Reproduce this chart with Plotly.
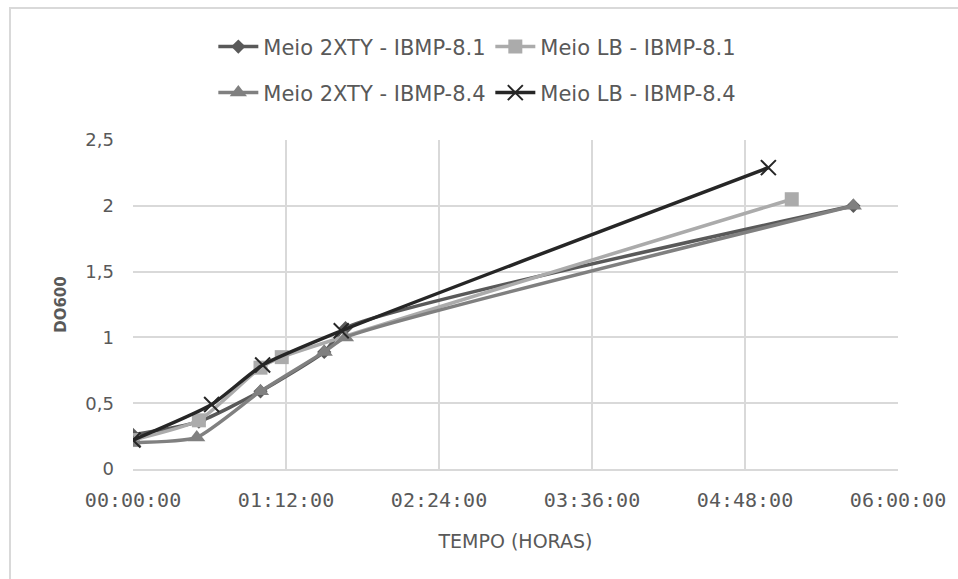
import plotly.graph_objects as go

# Data (time as HH:MM:SS, optical density DO600)
t_2xty_81 = ["00:00:00", "00:31:00", "01:00:00", "01:30:00", "01:40:00", "05:39:00"]
do_2xty_81 = [0.26, 0.36, 0.59, 0.89, 1.07, 2.00]

t_lb_81 = ["00:00:00", "00:31:00", "01:00:00", "01:10:00", "05:10:00"]
do_lb_81 = [0.22, 0.37, 0.77, 0.85, 2.05]

t_2xty_84 = ["00:00:00", "00:30:00", "01:00:00", "01:30:00", "01:40:00", "05:39:00"]
do_2xty_84 = [0.20, 0.24, 0.59, 0.89, 1.00, 2.00]

t_lb_84 = ["00:00:00", "00:37:00", "01:01:00", "01:38:00", "04:59:00"]
do_lb_84 = [0.22, 0.49, 0.79, 1.05, 2.29]

x_tick_vals = ["00:00:00", "01:12:00", "02:24:00", "03:36:00", "04:48:00", "06:00:00"]
y_tick_vals = [0, 0.5, 1, 1.5, 2, 2.5]

BASE = "2000-01-01 "

def d(ts):
    return [BASE + t for t in ts]

series = [
    ("Meio 2XTY - IBMP-8.1", t_2xty_81, do_2xty_81, "#595959", "diamond", 11, "legend"),
    ("Meio LB - IBMP-8.1", t_lb_81, do_lb_81, "#ababab", "square", 14, "legend"),
    ("Meio 2XTY - IBMP-8.4", t_2xty_84, do_2xty_84, "#808080", "triangle-up", 15, "legend2"),
    ("Meio LB - IBMP-8.4", t_lb_84, do_lb_84, "#262626", "x-thin", 15, "legend2"),
]

fig = go.Figure()
for name, ts, vals, color, sym, size, lg in series:
    marker = dict(symbol=sym, size=size, color=color)
    if sym == "x-thin":
        marker["line"] = dict(color=color, width=2)
    fig.add_trace(go.Scatter(
        x=d(ts), y=vals, name=name, mode="lines+markers", legend=lg,
        line=dict(color=color, width=3.5, shape="spline", smoothing=0.55),
        marker=marker,
    ))

leg_common = dict(
    orientation="h", xanchor="left", yanchor="middle",
    entrywidth=222, entrywidthmode="pixels",
    font=dict(family="DejaVu Sans", size=21, color="#595959"),
    itemwidth=40, bgcolor="rgba(0,0,0,0)",
)

fig.update_layout(
    width=958, height=579,
    margin=dict(l=133, r=60, t=140, b=110, autoexpand=False),
    paper_bgcolor="white", plot_bgcolor="white",
    separators=",.",
    font=dict(family="DejaVu Sans", color="#595959"),
    legend=dict(x=0.105, y=1.283, **leg_common),
    legend2=dict(x=0.105, y=1.143, **leg_common),
    shapes=[dict(type="rect", xref="paper", yref="paper",
                 x0=-0.1608, x1=1.083, y0=-0.36, y1=1.401,
                 line=dict(color="#d9d9d9", width=2), layer="below")],
)

fig.update_xaxes(
    type="date",
    range=[BASE + "00:00:00", BASE + "06:00:00"],
    tickvals=d(x_tick_vals), ticktext=x_tick_vals,
    showgrid=True, gridcolor="#d9d9d9", gridwidth=1.5,
    showline=True, linecolor="#d9d9d9", linewidth=1.5,
    tickfont=dict(family="DejaVu Sans Mono", size=20, color="#595959"),
    ticks="", ticklabelstandoff=12,
    title=dict(text="TEMPO (HORAS)", font=dict(family="DejaVu Sans", size=19, color="#595959"), standoff=24),
    zeroline=False,
)
fig.update_yaxes(
    range=[0, 2.5], tickvals=y_tick_vals,
    showgrid=True, gridcolor="#d9d9d9", gridwidth=1.5,
    showline=False, zeroline=False,
    tickfont=dict(family="DejaVu Sans", size=18, color="#595959"),
    ticklabelstandoff=18,
    title=dict(text="<b>DO600</b>", font=dict(family="DejaVu Sans", size=15, color="#595959"), standoff=15),
)

fig.write_html("out.html")
